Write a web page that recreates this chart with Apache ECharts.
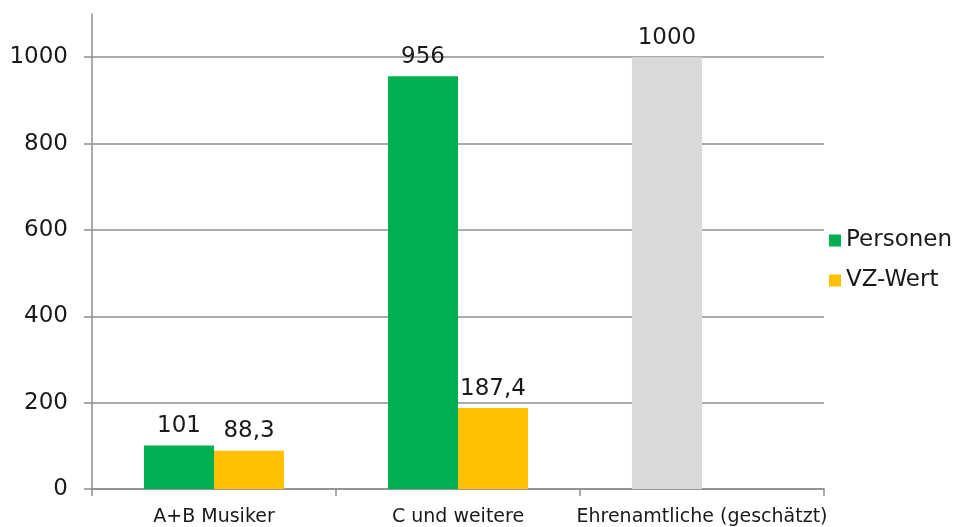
<!DOCTYPE html>
<html>
<head>
<meta charset="utf-8">
<script src="https://cdn.jsdelivr.net/npm/echarts@6/dist/echarts.min.js"></script>
<style>
  html, body { margin: 0; padding: 0; background: #fff; }
  #chart { width: 955px; height: 527px; }
</style>
</head>
<body>
<div id="chart"></div>
<script>
// Kategorien und Werte
const categories = ['A+B Musiker', 'C und weitere', 'Ehrenamtliche (geschätzt)'];
const personen = [101, 956, 1000];
const vzWert = [88.3, 187.4, null];
const yTicks = [0, 200, 400, 600, 800, 1000];

const FONT = 'DejaVu Sans';
const TEXT = '#1a1a1a';
const GRID = '#8f8f8f';
const GREEN = '#00B050';
const YELLOW = '#FFC000';
const GREY = '#D9D9D9';

// Der geschätzte Wert wird grau statt grün dargestellt
const personenData = personen.map((v, i) =>
  i === 2 ? { value: v, itemStyle: { color: GREY } } : v
);

const fmt = p => String(p.value).replace('.', ',');

const chart = echarts.init(document.getElementById('chart'), null, { renderer: 'canvas' });
chart.setOption({
  animation: false,
  textStyle: { fontFamily: FONT, color: TEXT },
  grid: { left: 92, right: 131, top: 14, bottom: 37, containLabel: false },
  legend: {
    orient: 'vertical',
    left: 824,
    top: 224,
    icon: 'rect',
    itemWidth: 12,
    itemHeight: 12,
    itemGap: 17,
    textStyle: { fontFamily: FONT, fontSize: 23, color: TEXT },
    data: ['Personen', 'VZ-Wert']
  },
  xAxis: {
    type: 'category',
    data: categories,
    axisLine: { lineStyle: { color: GRID, width: 1.5 } },
    axisTick: { show: true, interval: 0, length: 7, lineStyle: { color: GRID, width: 1.5 } },
    axisLabel: { interval: 0, fontFamily: FONT, fontSize: 19, color: TEXT, margin: 19 }
  },
  yAxis: {
    type: 'value',
    min: 0,
    max: 1100,
    interval: 200,
    axisLine: { show: true, lineStyle: { color: GRID, width: 1.5 } },
    axisTick: { show: true, length: 8, customValues: yTicks, lineStyle: { color: GRID, width: 1.5 } },
    axisLabel: {
      fontFamily: FONT, fontSize: 23, color: TEXT, margin: 24,
      customValues: yTicks,
      formatter: v => String(v)
    },
    splitLine: { show: true, lineStyle: { color: GRID, width: 1.5 } }
  },
  series: [
    {
      name: 'Personen',
      type: 'bar',
      data: personenData,
      itemStyle: { color: GREEN },
      barGap: '0%',
      barCategoryGap: '42.6%',
      label: { show: true, position: 'top', distance: 8, fontFamily: FONT, fontSize: 23, color: TEXT, formatter: fmt }
    },
    {
      name: 'VZ-Wert',
      type: 'bar',
      data: vzWert,
      itemStyle: { color: YELLOW },
      label: { show: true, position: 'top', distance: 8, fontFamily: FONT, fontSize: 23, color: TEXT, formatter: fmt }
    }
  ]
});
</script>
</body>
</html>
